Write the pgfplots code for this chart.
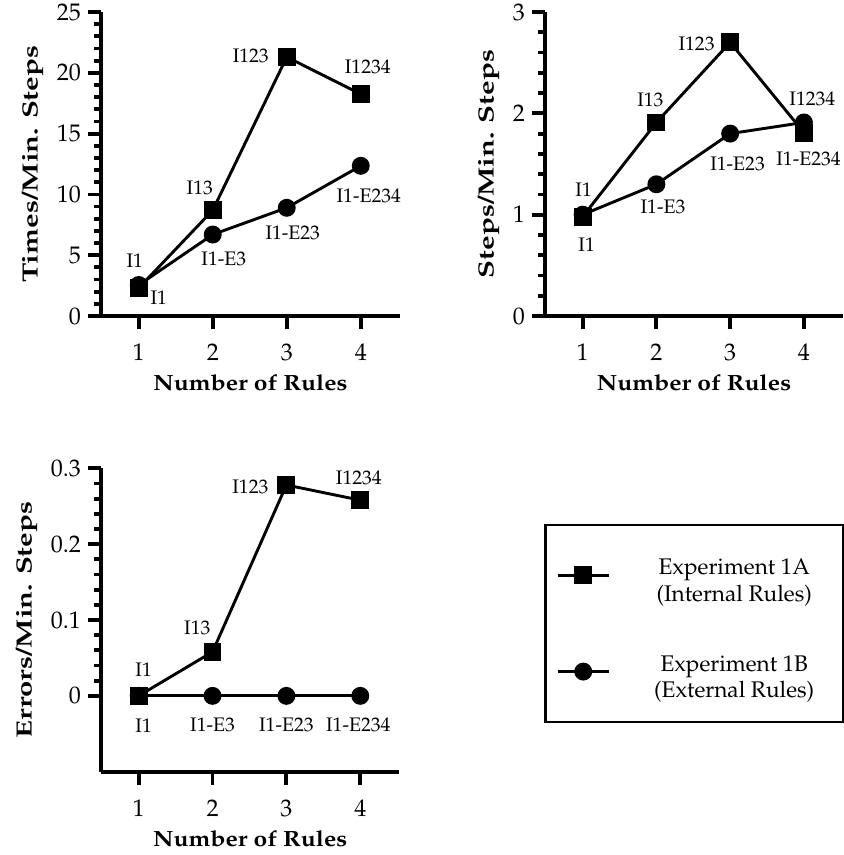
\documentclass[border=0pt]{standalone}
\usepackage[T1]{fontenc}
\usepackage{mathpazo}
\usepackage{graphicx}
\usepackage{pgfplots}
\pgfplotsset{compat=1.18}

% the axis titles of the original are wider than Palatino, so they are stretched a little
\newcommand{\xtitle}[1]{\scalebox{1.12}[1]{#1}}
\newcommand{\ytitle}[1]{\scalebox{1.33}[1]{#1}}

% common look of the three panels
\pgfplotsset{
  rulesplot/.style={
    scale only axis, clip=false,
    axis lines*=left,
    axis line style={line width=1.9pt},
    xmin=0.49, xmax=4.53,
    xtick={1,2,3,4},
    tick align=outside, tick pos=left,
    major tick length=6.5pt, minor tick length=3.5pt,
    tick style={black, line width=1.9pt},
    tick label style={font=\fontsize{12}{14}\selectfont},
    xticklabel shift=4pt,
    label style={font=\fontsize{11}{13}\selectfont\bfseries},
    xlabel={\xtitle{Number of Rules}},
  },
  sq/.style={black, line width=1.45pt, mark=square*, mark size=3.75pt, mark options={solid}},
  ci/.style={black, line width=1.45pt, mark=*, mark size=3.75pt, mark options={solid}},
}
\newcommand{\lb}[4]{\node[font=\fontsize{9.8}{11}\selectfont, xshift=#3pt, yshift=#4pt] at (axis cs:#1) {#2};}

\begin{document}
\begin{tikzpicture}
\useasboundingbox (0,0) rectangle (422pt,-427.5pt);

% --- times ---
\begin{axis}[rulesplot,
  at={(50.5pt,-158pt)}, anchor=south west,
  width=149.5pt, height=152pt,
  ymin=0, ymax=25, ytick={0,5,...,25}, minor y tick num=4,
  ylabel={\ytitle{Times/Min. Steps}}]
\addplot[ci] coordinates {(1,2.55) (2,6.7) (3,8.9) (4,12.35)};
\addplot[sq] coordinates {(1,2.3) (2,8.7) (3,21.3) (4,18.25)};
\lb{1,2.3}{I1}{10}{-5}
\lb{1,2.55}{I1}{-2}{12}
\lb{2,8.7}{I13}{-6.5}{11}
\lb{2,6.7}{I1-E3}{5.5}{-12}
\lb{3,21.3}{I123}{-18}{0.5}
\lb{3,8.9}{I1-E23}{3}{-12.5}
\lb{4,18.25}{I1234}{3.5}{13.5}
\lb{4,12.35}{I1-E234}{4}{-15}
\end{axis}

% --- steps ---
\begin{axis}[rulesplot,
  at={(272.5pt,-158pt)}, anchor=south west,
  width=149pt, height=152pt,
  ymin=0, ymax=3, ytick={0,1,2,3}, minor y tick num=4,
  ylabel={\ytitle{Steps/Min. Steps}}]
\addplot[ci] coordinates {(1,1.0) (2,1.30) (3,1.80) (4,1.91)};
\addplot[sq] coordinates {(1,0.98) (2,1.91) (3,2.70) (4,1.81)};
\lb{1,0.98}{I1}{2}{-14}
\lb{1,1.0}{I1}{0.5}{12.5}
\lb{2,1.91}{I13}{-3}{11.5}
\lb{2,1.30}{I1-E3}{3.3}{-11.5}
\lb{3,2.70}{I123}{-16.8}{-0.6}
\lb{3,1.80}{I1-E23}{3.7}{-15.3}
\lb{4,1.81}{I1234}{4.2}{17}
\lb{4,1.91}{I1-E234}{2.3}{-18.3}
\end{axis}

% --- errors, with the legend ---
\begin{axis}[rulesplot,
  at={(50.5pt,-385.85pt)}, anchor=south west,
  width=149.2pt, height=151.7pt,
  ymin=-0.1, ymax=0.3, ytick={0,0.1,0.2,0.3},
  minor ytick={0.02,0.04,0.06,0.08,0.12,0.14,0.16,0.18,0.22,0.24,0.26,0.28},
  ylabel={\ytitle{Errors/Min. Steps}},
  legend style={at={(1.485,0.8164)}, anchor=north west,
    draw=black, line width=1.2pt, inner xsep=5.5pt, inner ysep=15pt,
    row sep=28pt, font=\fontsize{11.3}{13.4}\selectfont,
    /tikz/every odd column/.append style={column sep=13pt}},
  legend image code/.code={\draw[mark repeat=2, mark phase=2, #1]
    plot coordinates {(0pt,0pt) (12.75pt,0pt) (25.5pt,0pt)};}]
\addplot[sq] coordinates {(1,0) (2,0.058) (3,0.278) (4,0.258)};
\addlegendentry{\parbox{94pt}{\centering Experiment 1A\\(Internal Rules)}}
\addplot[ci] coordinates {(1,0) (2,0) (3,0) (4,0)};
\addlegendentry{\parbox{94pt}{\centering Experiment 1B\\(External Rules)}}
\lb{1,0}{I1}{2.5}{13.3}
\lb{1,0}{I1}{2.5}{-14.7}
\lb{2,0.058}{I13}{-7.6}{12}
\lb{2,0}{I1-E3}{0}{-14.7}
\lb{3,0.278}{I123}{-18}{-1.2}
\lb{3,0}{I1-E23}{0}{-14.7}
\lb{4,0.258}{I1234}{-0.7}{11.2}
\lb{4,0}{I1-E234}{-1}{-14.7}
\end{axis}
\end{tikzpicture}
\end{document}
